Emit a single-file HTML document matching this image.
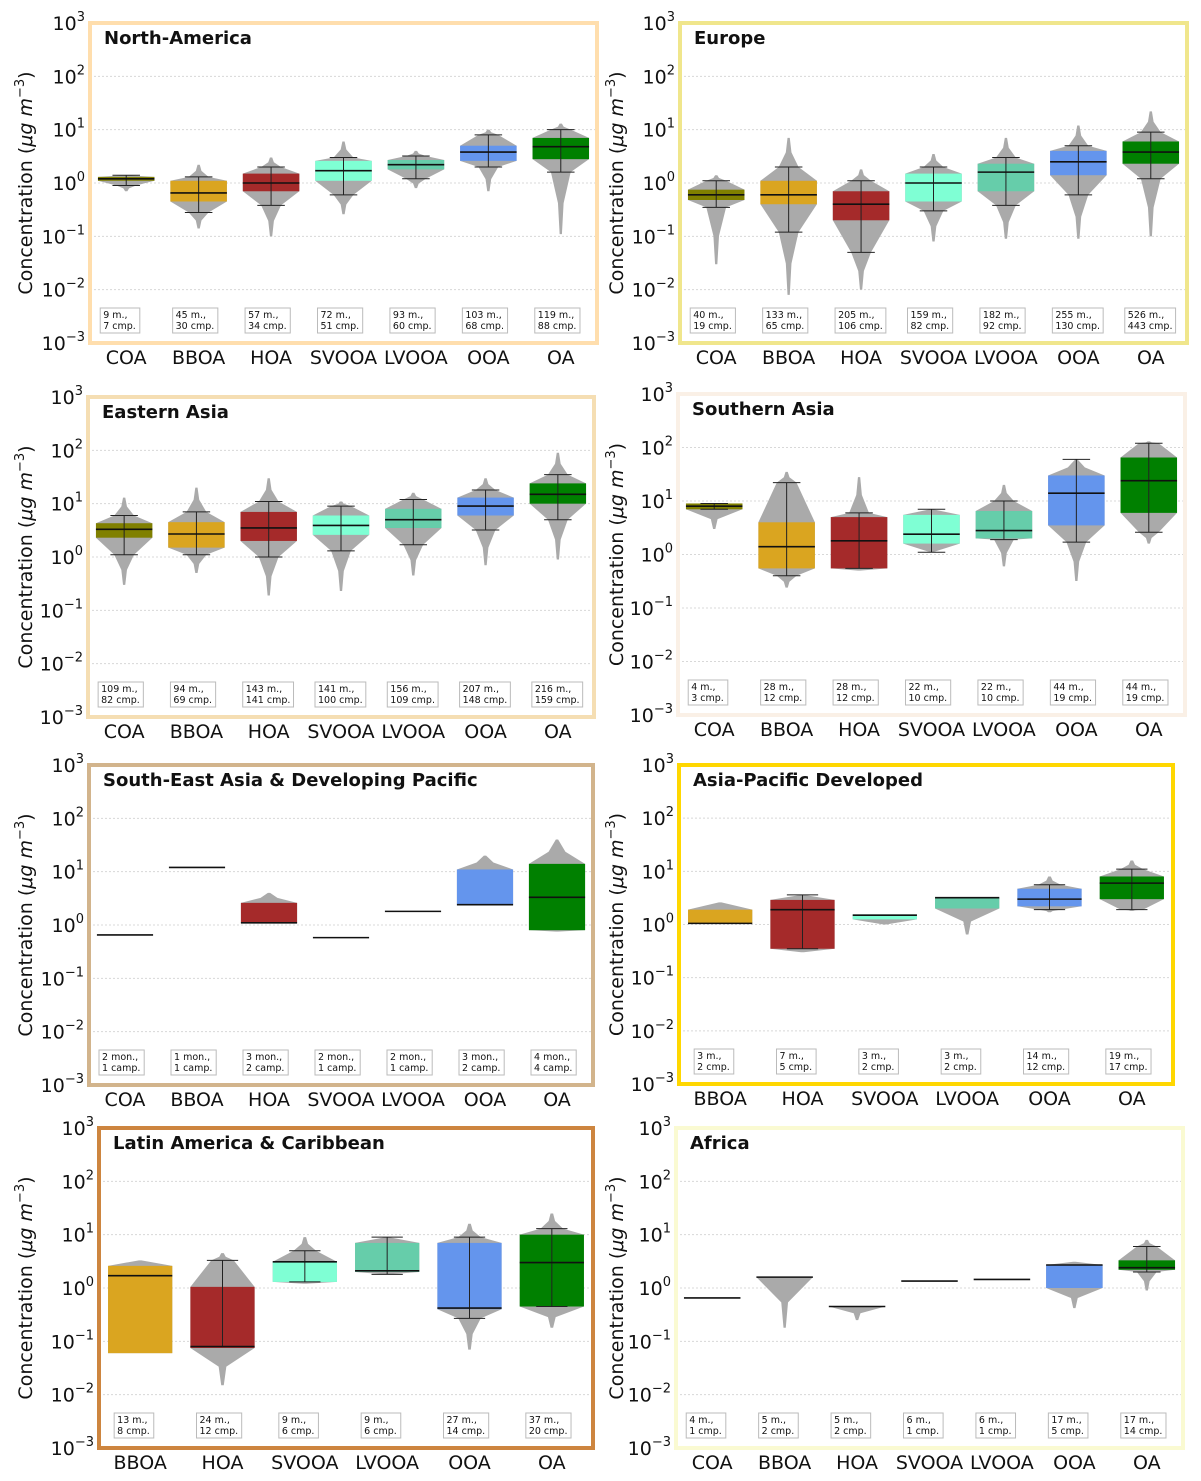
<!DOCTYPE html>
<html><head><meta charset="utf-8"><style>
html,body{margin:0;padding:0;background:#fff;}
svg{display:block;font-family:"DejaVu Sans","Liberation Sans",sans-serif;}
</style></head><body>
<svg id="fig" width="1201" height="1481" viewBox="0 0 1201 1481"></svg>
<script>
const panelNames=["North-America","Europe","Eastern Asia","Southern Asia","South-East Asia & Developing Pacific","Asia-Pacific Developed","Latin America & Caribbean","Africa"];
const borderColors=["#FFDEAD","#F0E68C","#F5DEB3","#FAF0E6","#D2B48C","#FFD700","#CD853F","#FAFAD2"];
const frames=[[90,23,597,343],[680,23,1187,343],[88,397,594,717],[678,394,1185,715],[89,765,593,1085],[679,765,1173,1084],[99,1128,593,1448],[676,1128,1183,1448]];
const allCats=["COA","BBOA","HOA","SVOOA","LVOOA","OOA","OA"];
const catColors={COA:"#808000",BBOA:"#DAA520",HOA:"#A52A2A",SVOOA:"#7FFFD4",LVOOA:"#66CDAA",OOA:"#6495ED",OA:"#008000"};
const categories=[allCats,allCats,allCats,allCats,allCats,["BBOA","HOA","SVOOA","LVOOA","OOA","OA"],["BBOA","HOA","SVOOA","LVOOA","OOA","OA"],allCats];
const q1=[[1.1,0.45,0.7,1.1,1.8,2.6,2.8],[0.48,0.4,0.2,0.45,0.7,1.4,2.3],[2.3,1.5,2,2.6,3.5,6,10],[7,0.55,0.55,1.6,2,3.5,6],[0.65,12,1.1,0.58,1.8,2.4,0.8],[1.05,0.35,1.25,2,2.2,3],[0.06,0.075,1.3,2,0.4,0.45],[0.65,1.6,0.45,1.35,1.45,1,2.2]];
const med=[[1.2,0.65,1.0,1.7,2.2,3.8,4.8],[0.6,0.6,0.4,1.0,1.6,2.5,3.8],[3.3,2.7,3.5,3.9,5,9,15],[8,1.4,1.8,2.4,2.8,14,24],[0.65,12,1.1,0.58,1.8,2.4,3.3],[1.05,1.9,1.5,3.2,3,6],[1.7,0.08,3.1,2.1,0.42,3],[0.65,1.6,0.45,1.35,1.45,2.7,2.4]];
const q3=[[1.3,1.1,1.5,2.6,2.7,5,7],[0.75,1.1,0.7,1.5,2.3,4,6],[4.3,4.5,7,6,8,13,24],[9,4,5,5.5,6.5,30,65],[0.65,12,2.6,0.58,1.8,11,14],[1.9,2.9,1.55,3.2,4.7,8],[2.6,1.05,3.1,7,7,10],[0.65,1.6,0.45,1.35,1.45,2.7,3.3]];
const whiskLo=[[0.9,0.28,0.38,0.6,1.2,2,1.6],[0.35,0.12,0.05,0.3,0.38,0.6,1.2],[1.1,1.1,1,1.3,1.7,3.2,5],[7,0.4,0.55,1.1,1.9,1.7,2.6],[null,null,null,null,null,null,null],[null,0.35,null,null,1.9,1.9],[null,0.08,1.3,1.8,0.27,0.45],[null,null,null,null,null,null,2]];
const whiskHi=[[1.4,1.3,2.0,3.0,3.2,8,10],[1.1,2,1.1,2,3,5,9],[6,7,11,9,12,18,35],[9,22,6,7,10,60,120],[null,null,null,null,null,null,null],[null,3.6,null,null,5.6,11],[null,3.3,5,9,9,13],[null,null,null,null,null,null,6]];
const vMin=[[0.7,0.14,0.1,0.26,0.8,0.7,0.11],[0.03,0.008,0.01,0.08,0.09,0.09,0.1],[0.3,0.5,0.19,0.23,0.45,0.7,0.9],[3,0.24,0.5,1.1,0.6,0.32,1.6],[0.65,12,1.1,0.58,1.8,2.4,0.75],[1.05,0.3,1.0,0.65,1.7,1.8],[0.06,0.015,1.2,1.8,0.07,0.18],[0.65,0.18,0.25,1.35,1.45,0.42,0.9]];
const vMax=[[1.4,2.2,3,6,4,10,13],[1.4,7,1.8,3.5,7,12,22],[13,20,30,11,16,30,90],[9,35,28,7,20,60,130],[0.65,12,4,0.58,1.8,20,40],[2.6,3.6,1.55,3.2,8,16],[3.3,4.5,9,9,16,25],[0.65,1.6,0.45,1.35,1.45,3.1,8]];
const notes=[
[["9 m.,","7 cmp."],["45 m.,","30 cmp."],["57 m.,","34 cmp."],["72 m.,","51 cmp."],["93 m.,","60 cmp."],["103 m.,","68 cmp."],["119 m.,","88 cmp."]],
[["40 m.,","19 cmp."],["133 m.,","65 cmp."],["205 m.,","106 cmp."],["159 m.,","82 cmp."],["182 m.,","92 cmp."],["255 m.,","130 cmp."],["526 m.,","443 cmp."]],
[["109 m.,","82 cmp."],["94 m.,","69 cmp."],["143 m.,","141 cmp."],["141 m.,","100 cmp."],["156 m.,","109 cmp."],["207 m.,","148 cmp."],["216 m.,","159 cmp."]],
[["4 m.,","3 cmp."],["28 m.,","12 cmp."],["28 m.,","12 cmp."],["22 m.,","10 cmp."],["22 m.,","10 cmp."],["44 m.,","19 cmp."],["44 m.,","19 cmp."]],
[["2 mon.,","1 camp."],["1 mon.,","1 camp."],["3 mon.,","2 camp."],["2 mon.,","1 camp."],["2 mon.,","1 camp."],["3 mon.,","2 camp."],["4 mon.,","4 camp."]],
[["3 m.,","2 cmp."],["7 m.,","5 cmp."],["3 m.,","2 cmp."],["3 m.,","2 cmp."],["14 m.,","12 cmp."],["19 m.,","17 cmp."]],
[["13 m.,","8 cmp."],["24 m.,","12 cmp."],["9 m.,","6 cmp."],["9 m.,","6 cmp."],["27 m.,","14 cmp."],["37 m.,","20 cmp."]],
[["4 m.,","1 cmp."],["5 m.,","2 cmp."],["5 m.,","2 cmp."],["6 m.,","1 cmp."],["6 m.,","1 cmp."],["17 m.,","5 cmp."],["17 m.,","14 cmp."]]
];
const tickExps=[3,2,1,0,-1,-2,-3];

const NS="http://www.w3.org/2000/svg";
const svg=document.getElementById("fig");
function mk(tag,attrs,parent){const e=document.createElementNS(NS,tag);for(const k in attrs)e.setAttribute(k,attrs[k]);(parent||svg).appendChild(e);return e;}
const gm=(a,b)=>Math.sqrt(a*b);

panelNames.forEach((pname,p)=>{
  const [x0,y0,x1,y1]=frames[p];
  const g=mk("g",{});
  
  
  const yScale=v=>y1-(Math.log10(v)+3)/6*(y1-y0);
  const cats=categories[p];
  const n=cats.length, step=(x1-x0)/n;
  const xScale=i=>x0+(i+0.5)*step;
  tickExps.forEach(e=>{
    const y=y1-(e+3)/6*(y1-y0);
    if(e>-3&&e<3){const gl=mk("line",{x1:x0,x2:x1,y1:y,y2:y,stroke:"#d8d8d8","stroke-width":1,"stroke-dasharray":"2,2"},g);
      }
    const t=mk("text",{x:x0-5,y:y+7,"text-anchor":"end","font-size":19,fill:"#111"},g);
    
    t.appendChild(document.createTextNode("10"));
    const s=mk("tspan",{"font-size":13,dy:-9},t);s.textContent=String(e).replace("-","−");
  });
  const ytx=x0<640?25:616;
  const yt=mk("text",{x:0,y:0,"text-anchor":"middle","font-size":19,fill:"#111",transform:`translate(${ytx+7},${(y0+y1)/2}) rotate(-90)`},g);
  
  yt.innerHTML='Concentration (<tspan font-style="italic">μg m</tspan><tspan font-size="13" dy="-8">−3</tspan><tspan dy="8">)</tspan>';
  const hw=step*0.39;
  cats.forEach((c,i)=>{
    const cx=xScale(i);
    const a=q1[p][i],m=med[p][i],b=q3[p][i],wl=whiskLo[p][i],wh=whiskHi[p][i],mn=vMin[p][i],mx=vMax[p][i];
    if(mx>mn*1.001){
      const pts=[[mn,0.04]];
      if(wl!=null&&wl>mn&&wl<a){pts.push([gm(mn,wl),0.1]);pts.push([wl,0.35]);}
      else if(a>mn*1.5)pts.push([gm(mn,a),0.12]);
      pts.push([a,1]);
      pts.push([b,1]);
      if(wh!=null&&wh>b&&wh<mx){pts.push([wh,0.35]);pts.push([gm(wh,mx),0.1]);}
      else if(mx>b*1.5)pts.push([gm(b,mx),0.3]);
      if(mx>b)pts.push([mx,0.04]);
      const L=pts.map(q=>`${cx-hw*q[1]},${yScale(q[0])}`),R=pts.slice().reverse().map(q=>`${cx+hw*q[1]},${yScale(q[0])}`);
      const sh=mk("polygon",{points:L.concat(R).join(" "),fill:"#aaaaaa"},g);
      
    }
    if(b>a*1.001){
      const r=mk("rect",{x:cx-hw,y:yScale(b),width:2*hw,height:yScale(a)-yScale(b),fill:catColors[c]},g);
      
    }
    if(wl!=null){
      const w=mk("line",{x1:cx,x2:cx,y1:yScale(wl),y2:yScale(wh),stroke:"#222","stroke-width":1},g);
      
      [wl,wh].forEach(v=>{const cp=mk("line",{x1:cx-step*0.19,x2:cx+step*0.19,y1:yScale(v),y2:yScale(v),stroke:"#222","stroke-width":1},g);
        });
    }
    const ml=mk("line",{x1:cx-hw,x2:cx+hw,y1:yScale(m),y2:yScale(m),stroke:"#111","stroke-width":1.6},g);
    
    const nt=notes[p][i];
    const bw=Math.max(38,Math.max(nt[0].length,nt[1].length)*5.6+6);
    const nb=mk("rect",{x:cx-26,y:y1-35,width:bw,height:25,fill:"#fff",stroke:"#bbb","stroke-width":1},g);
    
    nt.forEach((s,k)=>{const tt=mk("text",{x:cx-23,y:y1-25+k*11,"font-size":9.5,fill:"#111"},g);tt.textContent=s;
      });
    const cl=mk("text",{x:cx,y:y1+21,"text-anchor":"middle","font-size":19,fill:"#111"},g);
    cl.textContent=c;
    
  });
  const fr=mk("rect",{x:x0,y:y0,width:x1-x0,height:y1-y0,fill:"none",stroke:borderColors[p],"stroke-width":4},g);
  
  const ti=mk("text",{x:x0+14,y:y0+21,"font-size":18,"font-weight":"bold",fill:"#111"},g);
  ti.textContent=pname;
  
});
</script>
</body></html>
